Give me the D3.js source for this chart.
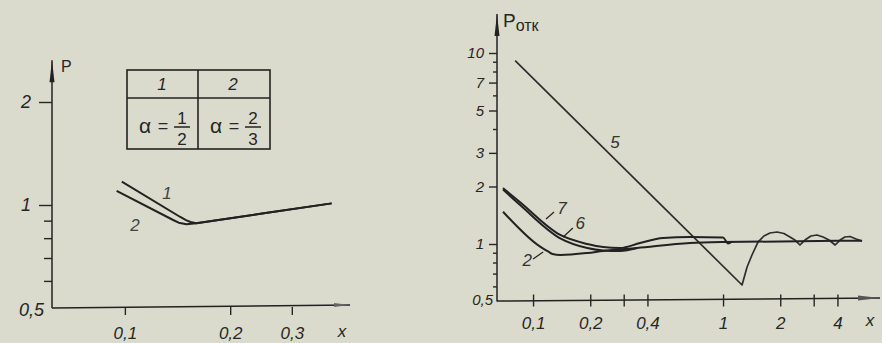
<!DOCTYPE html>
<html>
<head>
<meta charset="UTF-8">
<script src="https://d3js.org/d3.v7.min.js"></script>
<style>
body { margin: 0; background: #dadbcc; }
svg { display: block; }
.lbl { font-family: "Liberation Sans", "DejaVu Sans", sans-serif; font-style: italic; fill: #262626; }
.up { font-style: normal; }
.axis .domain { display: none; }
.axis line { stroke: #262626; stroke-width: 1.4; }
</style>
</head>
<body>
<svg width="882" height="343"></svg>
<script>

// ---- left panel data (log-log) ----
var leftXTicks = [0.1, 0.2, 0.3];
var leftXLabels = ["0,1", "0,2", "0,3"];
var leftYMajor = [1, 2];
var leftYLabels = ["1", "2"];
var leftYMinor = [0.6, 0.7, 0.8, 0.9];
var leftCurve1 = [[0.098, 1.17], [0.1436, 0.924], [0.1495, 0.903], [0.154, 0.892], [0.160, 0.884],
  [0.2496, 0.946], [0.39, 1.011]];
var leftCurve2 = [[0.0947, 1.099], [0.1374, 0.904], [0.1425, 0.888], [0.150, 0.879], [0.160, 0.884],
  [0.2496, 0.946], [0.39, 1.011]];
var leftCurveLabels = [["1", 0.132, 1.084], ["2", 0.1068, 0.874]];
var tableHead = ["1", "2"];
var tableFrac = [["1", "2"], ["2", "3"]];

// ---- right panel data (log-log) ----
var rightXTicks = [0.1, 0.2, 0.3, 0.4, 1, 2, 3, 4];
var rightXLabels = ["0,1", "0,2", "", "0,4", "1", "2", "", "4"];
var rightYMajor = [1, 2, 3, 5, 7, 10];
var rightYLabels = ["1", "2", "3", "5", "7", "10"];
var rightYMinor = [0.6, 0.7, 0.8, 0.9, 4, 6, 8, 9];
var curve2 = [[0.0695, 1.476], [0.109, 0.968], [0.120, 0.914], [0.1265, 0.886], [0.139, 0.876],
  [0.193, 0.897], [0.2337, 0.919], [0.353, 0.953], [0.67, 1.012], [1.0, 1.024], [5.39, 1.040]];
var curve6 = [[0.0695, 1.928], [0.0855, 1.60], [0.139, 1.071], [0.193, 0.953], [0.2337, 0.925],
  [0.287, 0.919], [0.353, 0.953]];
var curve7 = [[0.0695, 1.963], [0.0855, 1.653], [0.139, 1.115], [0.193, 1.0], [0.2337, 0.964],
  [0.287, 0.953], [0.366, 1.012], [0.483, 1.075], [0.67, 1.088], [1.0, 1.081], [1.062, 1.006],
  [1.115, 1.031]];
var curve5 = [[0.0805, 9.13], [1.259, 0.610], [1.338, 0.758], [1.42, 0.876], [1.527, 1.024],
  [1.64, 1.101], [1.767, 1.142], [1.924, 1.156], [2.09, 1.135], [2.25, 1.088], [2.39, 1.049],
  [2.54, 0.988], [2.70, 1.049], [2.9, 1.101], [3.12, 1.115], [3.36, 1.088], [3.61, 1.049],
  [3.89, 0.988], [4.13, 1.049], [4.38, 1.088], [4.66, 1.095], [5.01, 1.062], [5.39, 1.037]];
var rightCurveLabels = [["5", 0.270, 3.42], ["7", 0.142, 1.543], ["6", 0.177, 1.288], ["2", 0.0933, 0.825]];
var rightLeaders = [[[0.117, 1.352], [0.129, 1.47]], [[0.144, 1.088], [0.162, 1.213]], [[0.1, 0.835], [0.113, 0.908]]];

var svg = d3.select("svg");
var ink = "#222";

// scales
var xL = d3.scaleLog().domain([0.0619, 0.44]).range([52, 350]);
var yL = d3.scaleLog().domain([0.5, 2]).range([308, 102]);
var xR = d3.scaleLog().domain([0.0646, 6.7]).range([497, 880]);
var yR = d3.scaleLog().domain([0.5, 10]).range([301.5, 53]);

function lineFor(x, y, curve) {
  return d3.line().x(function(d) { return x(d[0]); }).y(function(d) { return y(d[1]); }).curve(curve);
}

// ================= LEFT PANEL =================
var gl = svg.append("g");

gl.append("line").attr("x1", xL(0.0619)).attr("x2", xL(0.0619))
  .attr("y1", yL(0.5)).attr("y2", yL(2.65)).attr("stroke", ink).attr("stroke-width", 1.5);
gl.append("path").attr("fill", ink)
  .attr("d", "M" + xL(0.0619) + "," + yL(2.65) + "l-2.5,22l5,0z");
gl.append("line").attr("x1", xL(0.0619)).attr("x2", xL(0.44))
  .attr("y1", yL(0.5)).attr("y2", yL(0.5) - 3).attr("stroke", ink).attr("stroke-width", 1.5);
gl.append("path").attr("fill", "#666")
  .attr("d", "M" + xL(0.44) + "," + (yL(0.5) - 3) + "l-16,-2l0,4z");

gl.append("g").attr("class", "axis")
  .attr("transform", "translate(" + xL(0.0619) + ",0)")
  .call(d3.axisLeft(yL).tickValues(leftYMajor).tickSize(13).tickPadding(8)
    .tickFormat(function(d, i) { return leftYLabels[i]; }))
  .selectAll("text").attr("class", "lbl").attr("font-size", 18).attr("fill", null);
gl.append("g").attr("class", "axis")
  .attr("transform", "translate(" + xL(0.0619) + ",0)")
  .call(d3.axisLeft(yL).tickValues(leftYMinor).tickSize(8).tickFormat(""));
gl.append("text").attr("class", "lbl").attr("font-size", 18)
  .attr("x", 44).attr("y", yL(0.5) + 8).attr("text-anchor", "end").text("0,5");
gl.append("text").attr("class", "lbl up").attr("font-size", 16)
  .attr("x", 61).attr("y", 72).text("P");

gl.append("g").attr("class", "axis")
  .attr("transform", "translate(0," + (yL(0.5) - 1) + ")")
  .call(d3.axisBottom(xL).tickValues(leftXTicks).tickSize(8).tickPadding(12)
    .tickFormat(function(d, i) { return leftXLabels[i]; }))
  .call(function(g) { g.selectAll("line").attr("stroke", "#555").attr("stroke-width", 1); })
  .selectAll("text").attr("class", "lbl").attr("font-size", 17).attr("fill", null);
gl.append("text").attr("class", "lbl").attr("font-size", 17)
  .attr("x", 342).attr("y", 337).attr("text-anchor", "middle").text("x");

[leftCurve1, leftCurve2].forEach(function(c) {
  gl.append("path").datum(c).attr("fill", "none").attr("stroke", ink).attr("stroke-width", 2)
    .attr("stroke-linejoin", "round").attr("d", lineFor(xL, yL, d3.curveLinear));
});
gl.selectAll(".clab").data(leftCurveLabels).enter().append("text")
  .attr("class", "lbl").attr("font-size", 17).attr("text-anchor", "middle")
  .attr("x", function(d) { return xL(d[1]); }).attr("y", function(d) { return yL(d[2]) + 6; })
  .style("fill", "#444")
  .text(function(d) { return d[0]; });

// table
var tb = gl.append("g").attr("stroke", ink).attr("stroke-width", 1.6);
tb.append("rect").attr("x", 127).attr("y", 70).attr("width", 143).attr("height", 79).attr("fill", "none");
tb.append("line").attr("x1", 127).attr("x2", 270).attr("y1", 98).attr("y2", 98);
tb.append("line").attr("x1", 198).attr("x2", 198).attr("y1", 70).attr("y2", 149);
var cellX = [127, 198];
tableHead.forEach(function(t, i) {
  gl.append("text").attr("class", "lbl").attr("font-size", 17).attr("text-anchor", "middle")
    .attr("x", cellX[i] + 35).attr("y", 90).text(t);
});
tableFrac.forEach(function(f, i) {
  var x0 = cellX[i];
  gl.append("text").attr("class", "lbl up").attr("font-size", 21).attr("text-anchor", "middle")
    .attr("x", x0 + 18).attr("y", 133).text("\u03b1");
  gl.append("text").attr("class", "lbl up").attr("font-size", 18).attr("text-anchor", "middle")
    .attr("x", x0 + 36).attr("y", 132).text("=");
  var fx = x0 + 55;
  gl.append("line").attr("x1", fx - 8).attr("x2", fx + 8).attr("y1", 127).attr("y2", 127)
    .attr("stroke", ink).attr("stroke-width", 1.5);
  gl.append("text").attr("class", "lbl up").attr("font-size", 17).attr("text-anchor", "middle")
    .attr("x", fx).attr("y", 124).text(f[0]);
  gl.append("text").attr("class", "lbl up").attr("font-size", 17).attr("text-anchor", "middle")
    .attr("x", fx).attr("y", 145).text(f[1]);
});

// ================= RIGHT PANEL =================
var gr = svg.append("g");

gr.append("line").attr("x1", xR(0.0646)).attr("x2", xR(0.0646))
  .attr("y1", yR(0.5)).attr("y2", yR(16)).attr("stroke", ink).attr("stroke-width", 1.5);
gr.append("path").attr("fill", ink)
  .attr("d", "M" + xR(0.0646) + "," + yR(16) + "l-2.5,22l5,0z");
gr.append("line").attr("x1", xR(0.0646)).attr("x2", xR(6.7))
  .attr("y1", yR(0.5) - 0.5).attr("y2", yR(0.5) - 3.5).attr("stroke", ink).attr("stroke-width", 1.5);
gr.append("path").attr("fill", "#555")
  .attr("d", "M" + xR(6.7) + "," + (yR(0.5) - 3.5) + "l-22,-2.5l0,5z");

gr.append("g").attr("class", "axis")
  .attr("transform", "translate(" + xR(0.0646) + ",0)")
  .call(d3.axisLeft(yR).tickValues(rightYMajor).tickSize(8).tickPadding(5)
    .tickFormat(function(d, i) { return rightYLabels[i]; }))
  .selectAll("text").attr("class", "lbl").attr("font-size", 15).attr("fill", null);
gr.append("g").attr("class", "axis")
  .attr("transform", "translate(" + xR(0.0646) + ",0)")
  .call(d3.axisLeft(yR).tickValues(rightYMinor).tickSize(4).tickFormat(""));
gr.append("text").attr("class", "lbl").attr("font-size", 15)
  .attr("x", 493).attr("y", yR(0.5) + 3).attr("text-anchor", "end").text("0,5");
var pl = gr.append("text").attr("class", "lbl up").attr("font-size", 19)
  .attr("x", 503).attr("y", 27).text("P");
pl.append("tspan").attr("font-size", 16).attr("dy", 4).text("отк");

gr.append("g").attr("class", "axis")
  .attr("transform", "translate(0," + (yR(0.5) - 2) + ")")
  .call(d3.axisBottom(xR).tickValues(rightXTicks).tickSize(7).tickPadding(10)
    .tickFormat(function(d, i) { return rightXLabels[i]; }))
  .call(function(g) { g.selectAll("line").attr("y1", -5); })
  .selectAll("text").attr("class", "lbl").attr("font-size", 17).attr("fill", null);
gr.append("text").attr("class", "lbl").attr("font-size", 17)
  .attr("x", 870).attr("y", 326).attr("text-anchor", "middle").text("x");

gr.append("path").datum(curve5).attr("fill", "none").attr("stroke", "#2e2e2e").attr("stroke-width", 1.7)
  .attr("stroke-linejoin", "round").attr("d", lineFor(xR, yR, d3.curveLinear));
[curve2, curve6, curve7].forEach(function(c) {
  gr.append("path").datum(c).attr("fill", "none").attr("stroke", ink).attr("stroke-width", 2)
    .attr("d", lineFor(xR, yR, d3.curveMonotoneX));
});
rightLeaders.forEach(function(s) {
  gr.append("line").attr("x1", xR(s[0][0])).attr("y1", yR(s[0][1]))
    .attr("x2", xR(s[1][0])).attr("y2", yR(s[1][1])).attr("stroke", ink).attr("stroke-width", 1.2);
});
gr.selectAll(".clab").data(rightCurveLabels).enter().append("text")
  .attr("class", "lbl").attr("font-size", 17).attr("text-anchor", "middle")
  .attr("x", function(d) { return xR(d[1]); }).attr("y", function(d) { return yR(d[2]) + 6; })
  .style("fill", "#333")
  .text(function(d) { return d[0]; });

</script>
</body>
</html>
